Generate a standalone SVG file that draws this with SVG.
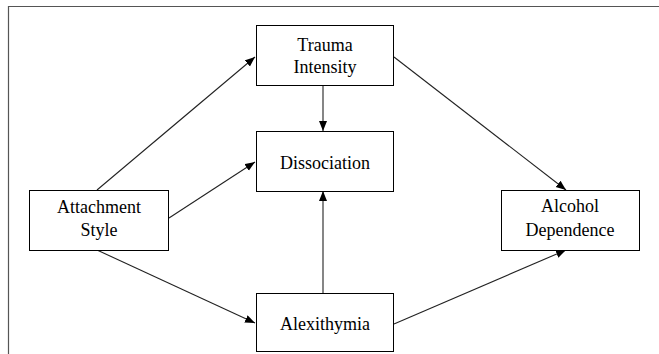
<svg xmlns="http://www.w3.org/2000/svg" width="659" height="354" viewBox="0 0 659 354">
<defs>
<style>
.box{fill:#fff;stroke:#000;stroke-width:1}
.lbl{font-family:'Liberation Serif','Times New Roman',serif;font-size:18px;fill:#000;text-anchor:middle}
.edge{stroke:#222;stroke-width:1.1;fill:none;marker-end:url(#ah)}
.frame{stroke:#555;stroke-width:1.2;fill:none}
</style>
<marker id="ah" markerUnits="userSpaceOnUse" markerWidth="11" markerHeight="9" refX="10" refY="4" orient="auto">
<path d="M0,0 L10,4 L0,8 z" fill="#000"/>
</marker>
</defs>
<rect width="659" height="354" fill="#fff"/>
<path class="frame" d="M8.5,354 V6.5 H659"/>
<g id="connectors">
<line class="edge" x1="97" y1="190" x2="255" y2="57"/>
<line class="edge" x1="169" y1="218" x2="255" y2="162"/>
<line class="edge" x1="97" y1="250" x2="255" y2="323"/>
<line class="edge" x1="323" y1="85" x2="323" y2="131"/>
<line class="edge" x1="323" y1="293" x2="323" y2="191"/>
<line class="edge" x1="394" y1="57" x2="566" y2="190"/>
<line class="edge" x1="394" y1="324" x2="566" y2="250"/>
</g>
<g id="trauma">
<rect class="box" x="256.5" y="25.5" width="137" height="60"/>
<text class="lbl" x="325" y="51">Trauma</text>
<text class="lbl" x="325" y="73">Intensity</text>
</g>
<g id="dissociation">
<rect class="box" x="256.5" y="131.5" width="137" height="60"/>
<text class="lbl" x="325" y="169">Dissociation</text>
</g>
<g id="attachment">
<rect class="box" x="29.5" y="190.5" width="139" height="60"/>
<text class="lbl" x="99" y="213">Attachment</text>
<text class="lbl" x="99" y="236">Style</text>
</g>
<g id="alexithymia">
<rect class="box" x="256.5" y="293.5" width="137" height="58"/>
<text class="lbl" x="325" y="330">Alexithymia</text>
</g>
<g id="alcohol">
<rect class="box" x="501.5" y="190.5" width="138" height="60"/>
<text class="lbl" x="570" y="212">Alcohol</text>
<text class="lbl" x="570" y="236">Dependence</text>
</g>
</svg>
